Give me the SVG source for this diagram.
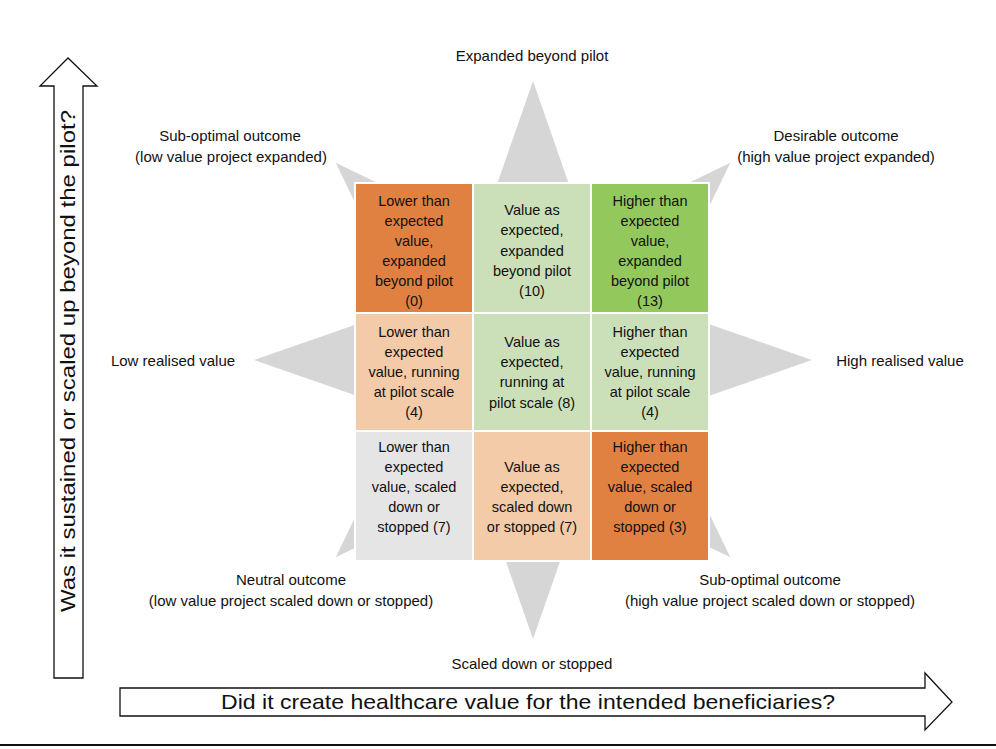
<svg xmlns="http://www.w3.org/2000/svg" width="996" height="749" viewBox="0 0 996 749">
<style>
text{font-family:"Liberation Sans",Arial,sans-serif;fill:#111;text-anchor:middle}
.lbl{font-size:15px}
.cell{font-size:14.5px}
.big{font-size:21px}
.c rect{stroke:#fff;stroke-width:2}
.arrow{fill:#fff;stroke:#111;stroke-width:1.3}
</style>
<rect width="996" height="749" fill="#fff"/>
<g id="star">
<polygon fill="#d6d6d6" points="533,81 585.8,232.5 730.3,162.7 660.5,307.2 812,360 660.5,412.8 730.3,557.3 585.8,487.5 533,639 480.2,487.5 335.7,557.3 405.5,412.8 254,360 405.5,307.2 335.7,162.7 480.2,232.5"/>
</g>
<g id="axis-labels" class="lbl">
<text x="532" y="61">Expanded beyond pilot</text>
<text x="230" y="141">Sub-optimal outcome</text>
<text x="231" y="162">(low value project expanded)</text>
<text x="836" y="141">Desirable outcome</text>
<text x="836" y="162">(high value project expanded)</text>
<text x="173" y="366">Low realised value</text>
<text x="900" y="366">High realised value</text>
<text x="291" y="585">Neutral outcome</text>
<text x="291" y="606">(low value project scaled down or stopped)</text>
<text x="770" y="585">Sub-optimal outcome</text>
<text x="770" y="606">(high value project scaled down or stopped)</text>
<text x="532" y="669">Scaled down or stopped</text>
</g>
<g id="grid" class="c">
<g id="cell-r1c1"><rect x="355" y="183" width="118" height="130" fill="#e08142"/>
<text class="cell"><tspan x="414" y="206">Lower than</tspan><tspan x="414" y="226">expected</tspan><tspan x="414" y="246">value,</tspan><tspan x="414" y="266">expanded</tspan><tspan x="414" y="286">beyond pilot</tspan><tspan x="414" y="306">(0)</tspan></text></g>
<g id="cell-r1c2"><rect x="473" y="183" width="118" height="130" fill="#cbe0b8"/>
<text class="cell"><tspan x="532" y="215">Value as</tspan><tspan x="532" y="235">expected,</tspan><tspan x="532" y="256">expanded</tspan><tspan x="532" y="276">beyond pilot</tspan><tspan x="532" y="296">(10)</tspan></text></g>
<g id="cell-r1c3"><rect x="591" y="183" width="118" height="130" fill="#93c95c"/>
<text class="cell"><tspan x="650" y="206">Higher than</tspan><tspan x="650" y="226">expected</tspan><tspan x="650" y="246">value,</tspan><tspan x="650" y="266">expanded</tspan><tspan x="650" y="286">beyond pilot</tspan><tspan x="650" y="306">(13)</tspan></text></g>
<g id="cell-r2c1"><rect x="355" y="313" width="118" height="118" fill="#f3cba9"/>
<text class="cell"><tspan x="414" y="337">Lower than</tspan><tspan x="414" y="357">expected</tspan><tspan x="414" y="377">value, running</tspan><tspan x="414" y="397">at pilot scale</tspan><tspan x="414" y="417">(4)</tspan></text></g>
<g id="cell-r2c2"><rect x="473" y="313" width="118" height="118" fill="#cbe0b8"/>
<text class="cell"><tspan x="532" y="347">Value as</tspan><tspan x="532" y="367">expected,</tspan><tspan x="532" y="387">running at</tspan><tspan x="532" y="408">pilot scale (8)</tspan></text></g>
<g id="cell-r2c3"><rect x="591" y="313" width="118" height="118" fill="#cbe0b8"/>
<text class="cell"><tspan x="650" y="337">Higher than</tspan><tspan x="650" y="357">expected</tspan><tspan x="650" y="377">value, running</tspan><tspan x="650" y="397">at pilot scale</tspan><tspan x="650" y="417">(4)</tspan></text></g>
<g id="cell-r3c1"><rect x="355" y="431" width="118" height="130" fill="#e6e5e5"/>
<text class="cell"><tspan x="414" y="452">Lower than</tspan><tspan x="414" y="472">expected</tspan><tspan x="414" y="492">value, scaled</tspan><tspan x="414" y="512">down or</tspan><tspan x="414" y="532">stopped (7)</tspan></text></g>
<g id="cell-r3c2"><rect x="473" y="431" width="118" height="130" fill="#f3cba9"/>
<text class="cell"><tspan x="532" y="472">Value as</tspan><tspan x="532" y="492">expected,</tspan><tspan x="532" y="512">scaled down</tspan><tspan x="532" y="532">or stopped (7)</tspan></text></g>
<g id="cell-r3c3"><rect x="591" y="431" width="118" height="130" fill="#e08142"/>
<text class="cell"><tspan x="650" y="452">Higher than</tspan><tspan x="650" y="472">expected</tspan><tspan x="650" y="492">value, scaled</tspan><tspan x="650" y="512">down or</tspan><tspan x="650" y="532">stopped (3)</tspan></text></g>
</g>
<g id="connectors">
<g id="y-axis"><polygon class="arrow" points="54,678 54,86 40,86 68,58 97,86 83,86 83,678"/>
<text class="big" transform="translate(75,361) rotate(-90)" textLength="502" lengthAdjust="spacingAndGlyphs">Was it sustained or scaled up beyond the pilot?</text></g>
<g id="x-axis"><polygon class="arrow" points="120,688 925,688 925,673 952,702 925,730 925,716 120,716"/>
<text class="big" x="528" y="709" textLength="614" lengthAdjust="spacingAndGlyphs">Did it create healthcare value for the intended beneficiaries?</text></g>
</g>
<line x1="0" y1="745" x2="996" y2="745" stroke="#111" stroke-width="2"/>
</svg>
